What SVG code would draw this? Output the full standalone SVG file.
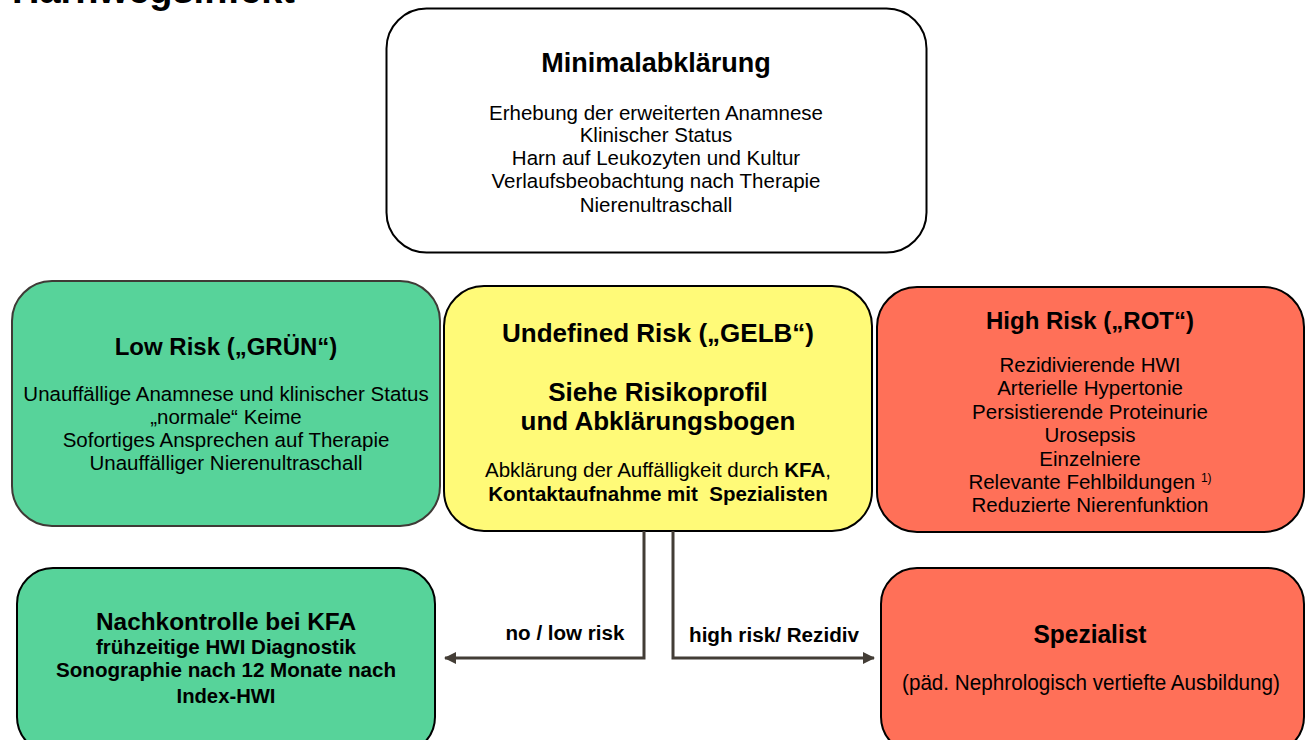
<svg xmlns="http://www.w3.org/2000/svg" width="1308" height="740" viewBox="0 0 1308 740">
<style>
text{font-family:"Liberation Sans",Arial,sans-serif;fill:#000;text-anchor:middle}
.b{font-weight:bold}
.t24{font-size:24px}
.t26{font-size:26px}
.t27{font-size:27px}
.body{font-size:20.5px}
.lbl{font-size:20px;font-weight:bold}
.green{fill:#57d39a}
.yellow{fill:#fffa78}
.red{fill:#ff7058}
.edge{fill:none;stroke:#433d36;stroke-width:3}
</style>
<defs>
<marker id="arr" markerUnits="userSpaceOnUse" markerWidth="12" markerHeight="12" refX="11" refY="6" orient="auto">
<path d="M0,0 L12,6 L0,12 z" fill="#433d36"/>
</marker>
</defs>
<rect width="1308" height="740" fill="#fff"/>
<text x="12" y="3" class="b" style="text-anchor:start;font-size:38px">Harnwegsinfekt</text>

<g id="minimal">
<rect x="386.5" y="8.5" width="540" height="244" rx="40" fill="#fff" stroke="#000" stroke-width="2"/>
<text x="656" y="72" class="b t27">Minimalabklärung</text>
<text x="656" y="120" class="body">Erhebung der erweiterten Anamnese</text>
<text x="656" y="142" class="body">Klinischer Status</text>
<text x="656" y="165" class="body">Harn auf Leukozyten und Kultur</text>
<text x="656" y="188" class="body">Verlaufsbeobachtung nach Therapie</text>
<text x="656" y="212" class="body">Nierenultraschall</text>
</g>

<g id="low">
<rect x="12" y="281" width="428" height="245" rx="40" class="green" stroke="#3f3a36" stroke-width="2"/>
<text x="226" y="355" class="b t24">Low Risk („GRÜN“)</text>
<text x="226" y="401" class="body">Unauffällige Anamnese und klinischer Status</text>
<text x="226" y="424" class="body">„normale“ Keime</text>
<text x="226" y="447" class="body">Sofortiges Ansprechen auf Therapie</text>
<text x="226" y="470" class="body">Unauffälliger Nierenultraschall</text>
</g>

<g id="undefined">
<rect x="444" y="286" width="428" height="245" rx="40" class="yellow" stroke="#000" stroke-width="2"/>
<text x="658" y="342" class="b t26">Undefined Risk („GELB“)</text>
<text x="658" y="401" class="b t26">Siehe Risikoprofil</text>
<text x="658" y="430" class="b t26">und Abklärungsbogen</text>
<text x="658" y="477" class="body">Abklärung der Auffälligkeit durch <tspan class="b">KFA</tspan>,</text>
<text x="658" y="501" class="body b" xml:space="preserve">Kontaktaufnahme mit  Spezialisten</text>
</g>

<g id="high">
<rect x="877" y="287" width="427" height="245" rx="40" class="red" stroke="#000" stroke-width="2"/>
<text x="1090" y="329" class="b t24">High Risk („ROT“)</text>
<text x="1090" y="372" class="body">Rezidivierende HWI</text>
<text x="1090" y="395" class="body">Arterielle Hypertonie</text>
<text x="1090" y="419" class="body">Persistierende Proteinurie</text>
<text x="1090" y="442" class="body">Urosepsis</text>
<text x="1090" y="466" class="body">Einzelniere</text>
<text x="1090" y="489" class="body">Relevante Fehlbildungen <tspan font-size="12" dy="-7">1)</tspan></text>
<text x="1090" y="512" class="body">Reduzierte Nierenfunktion</text>
</g>

<g id="nachkontrolle">
<rect x="17" y="568" width="418" height="185" rx="36" class="green" stroke="#000" stroke-width="2"/>
<text x="226" y="630" class="b" font-size="24" textLength="260" lengthAdjust="spacingAndGlyphs">Nachkontrolle bei KFA</text>
<text x="226" y="654" class="b" font-size="20" textLength="260" lengthAdjust="spacingAndGlyphs">frühzeitige HWI Diagnostik</text>
<text x="226" y="677" class="b" font-size="21" textLength="340" lengthAdjust="spacingAndGlyphs">Sonographie nach 12 Monate nach</text>
<text x="226" y="703" class="b" font-size="21" textLength="99" lengthAdjust="spacingAndGlyphs">Index-HWI</text>
</g>

<g id="spezialist">
<rect x="881" y="568" width="423" height="185" rx="36" class="red" stroke="#000" stroke-width="2"/>
<text x="1090" y="643" class="b" font-size="26" textLength="113" lengthAdjust="spacingAndGlyphs">Spezialist</text>
<text x="1091" y="690" font-size="22" textLength="378" lengthAdjust="spacingAndGlyphs">(päd. Nephrologisch vertiefte Ausbildung)</text>
</g>

<g id="connectors">
<path class="edge" d="M644,531 V658 H445" marker-end="url(#arr)"/>
<path class="edge" d="M673,531 V658 H874" marker-end="url(#arr)"/>
<text x="565" y="640" class="lbl" textLength="119" lengthAdjust="spacingAndGlyphs">no / low risk</text>
<text x="774" y="642" class="lbl" textLength="170" lengthAdjust="spacingAndGlyphs">high risk/ Rezidiv</text>
</g>
</svg>
